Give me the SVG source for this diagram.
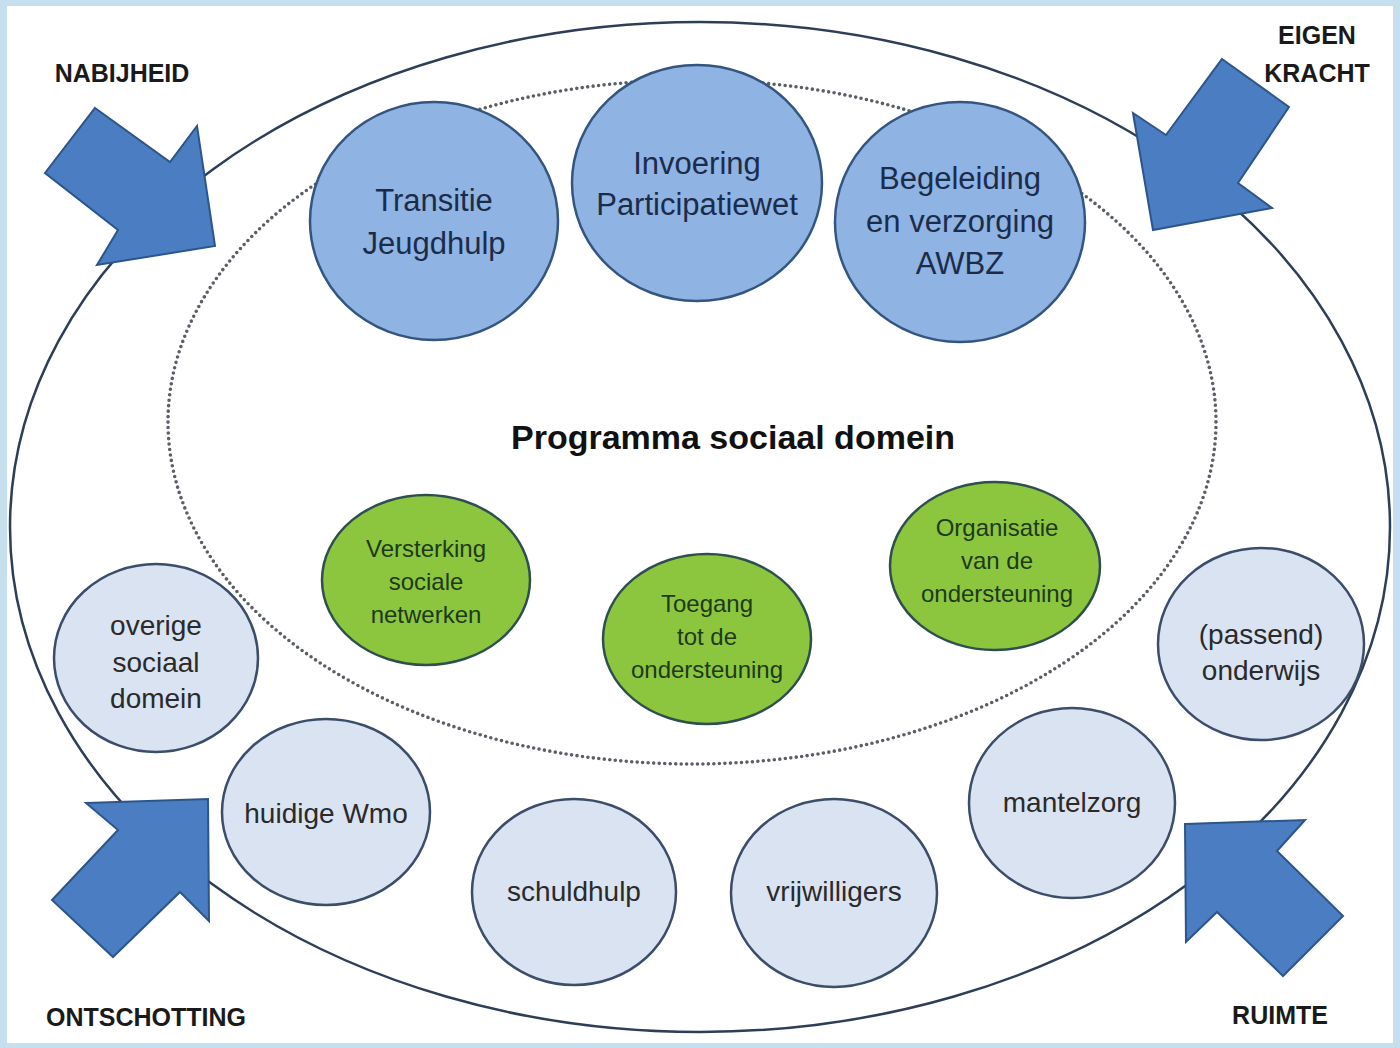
<svg xmlns="http://www.w3.org/2000/svg" width="1400" height="1048" viewBox="0 0 1400 1048">
<style>
.t{font-family:"Liberation Sans",Arial,sans-serif;text-anchor:middle}
.top{fill:#8fb3e2;stroke:#34557f;stroke-width:2.5}
.grn{fill:#8cc63f;stroke:#2f4f4f;stroke-width:2.5}
.lt{fill:#dae3f2;stroke:#3b4d69;stroke-width:2.5}
.ttop{font-size:31px;fill:#1b2c4a}
.tgrn{font-size:24px;fill:#1e3a1a}
.tlt{font-size:28px;fill:#2a2a2a}
.lbl{font-size:25px;font-weight:bold;fill:#1a1a1a}
.arr{fill:#4a7dc1;stroke:#2c5589;stroke-width:2;stroke-linejoin:miter}
</style>
<rect x="0" y="0" width="1400" height="1048" fill="#c6dfee"/>
<rect x="7" y="6" width="1386" height="1037" fill="#ffffff"/>
<g id="connectors">
<ellipse id="outer-ring" cx="700" cy="527" rx="690" ry="505" fill="none" stroke="#2d3e57" stroke-width="2.5"/>
<ellipse id="inner-ring" cx="692" cy="422" rx="524" ry="342" fill="none" stroke="#5a5f66" stroke-width="3.6" stroke-linecap="round" stroke-dasharray="0 5.5"/>
<polygon id="arrow-nabijheid" class="arr" points="95,108 170,162 197,126 215,246 97,265 118,230 45,173"/>
<polygon id="arrow-eigenkracht" class="arr" points="1222,59 1289,107 1238,183 1272,208 1153,230 1133,113 1166,135"/>
<polygon id="arrow-ontschotting" class="arr" points="86,803 208,799 209,921 180,892 113,957 52,900 118,830"/>
<polygon id="arrow-ruimte" class="arr" points="1185,824 1305,820 1277,851 1343,916 1283,976 1217,912 1186,942"/>
</g>
<g id="label-nabijheid"><text class="t lbl" x="122" y="82">NABIJHEID</text></g>
<g id="label-eigenkracht"><text class="t lbl" x="1317" y="44">EIGEN</text><text class="t lbl" x="1317" y="82">KRACHT</text></g>
<g id="label-ontschotting"><text class="t lbl" x="146" y="1026">ONTSCHOTTING</text></g>
<g id="label-ruimte"><text class="t lbl" x="1280" y="1024">RUIMTE</text></g>
<g id="title"><text class="t" x="733" y="449" font-size="34" font-weight="bold" fill="#111">Programma sociaal domein</text></g>
<g id="node-transitie"><ellipse class="top" cx="434" cy="221" rx="124" ry="119"/><text class="t ttop" x="434" y="211">Transitie</text><text class="t ttop" x="434" y="254">Jeugdhulp</text></g>
<g id="node-invoering"><ellipse class="top" cx="697" cy="183" rx="125" ry="118"/><text class="t ttop" x="697" y="174">Invoering</text><text class="t ttop" x="697" y="215">Participatiewet</text></g>
<g id="node-begeleiding"><ellipse class="top" cx="960" cy="222" rx="125" ry="120"/><text class="t ttop" x="960" y="189">Begeleiding</text><text class="t ttop" x="960" y="232">en verzorging</text><text class="t ttop" x="960" y="274">AWBZ</text></g>
<g id="node-versterking"><ellipse class="grn" cx="426" cy="580" rx="104" ry="85"/><text class="t tgrn" x="426" y="557">Versterking</text><text class="t tgrn" x="426" y="590">sociale</text><text class="t tgrn" x="426" y="623">netwerken</text></g>
<g id="node-toegang"><ellipse class="grn" cx="707" cy="639" rx="104" ry="85"/><text class="t tgrn" x="707" y="612">Toegang</text><text class="t tgrn" x="707" y="645">tot de</text><text class="t tgrn" x="707" y="678">ondersteuning</text></g>
<g id="node-organisatie"><ellipse class="grn" cx="995" cy="566" rx="105" ry="84"/><text class="t tgrn" x="997" y="536">Organisatie</text><text class="t tgrn" x="997" y="569">van de</text><text class="t tgrn" x="997" y="602">ondersteuning</text></g>
<g id="node-overige"><ellipse class="lt" cx="156" cy="658" rx="102" ry="94"/><text class="t tlt" x="156" y="635">overige</text><text class="t tlt" x="156" y="672">sociaal</text><text class="t tlt" x="156" y="708">domein</text></g>
<g id="node-wmo"><ellipse class="lt" cx="326" cy="812" rx="104" ry="93"/><text class="t tlt" x="326" y="823">huidige Wmo</text></g>
<g id="node-schuldhulp"><ellipse class="lt" cx="574" cy="892" rx="102" ry="93"/><text class="t tlt" x="574" y="901">schuldhulp</text></g>
<g id="node-vrijwilligers"><ellipse class="lt" cx="834" cy="893" rx="103" ry="94"/><text class="t tlt" x="834" y="901">vrijwilligers</text></g>
<g id="node-mantelzorg"><ellipse class="lt" cx="1072" cy="803" rx="103" ry="95"/><text class="t tlt" x="1072" y="812">mantelzorg</text></g>
<g id="node-onderwijs"><ellipse class="lt" cx="1261" cy="644" rx="103" ry="96"/><text class="t tlt" x="1261" y="644">(passend)</text><text class="t tlt" x="1261" y="680">onderwijs</text></g>
</svg>
